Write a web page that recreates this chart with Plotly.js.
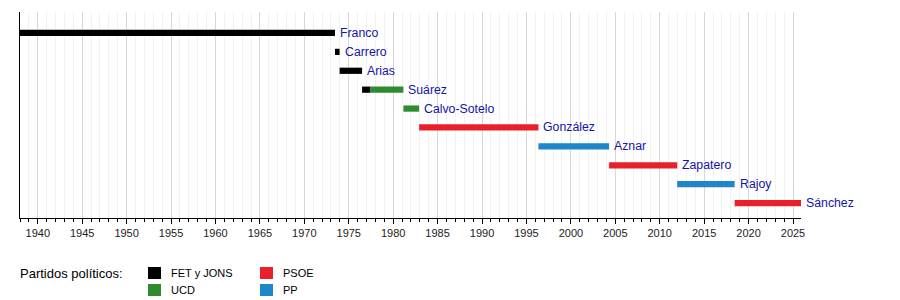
<!DOCTYPE html>
<html><head><meta charset="utf-8">
<script src="https://cdn.plot.ly/plotly-3.0.1.min.js"></script>
<style>html,body{margin:0;padding:0;background:#fff}#chart{width:900px;height:300px}</style>
</head><body><div id="chart"></div>
<script>
// Presidents of the Spanish government, periods (decimal years)
const names = ["Franco","Carrero","Arias","Suárez","Suárez","Calvo-Sotelo","González","Aznar","Zapatero","Rajoy","Sánchez"];
const rows  = [0,1,2,3,3,4,5,6,7,8,9];
const starts = [1938.0,1973.45,1973.97,1976.5,1977.45,1981.15,1982.92,1996.35,2004.3,2011.97,2018.43];
const ends   = [1973.45,1973.97,1976.5,1977.45,1981.15,1982.92,1996.35,2004.3,2011.97,2018.43,2025.9];
const parties = ["FET y JONS","FET y JONS","FET y JONS","FET y JONS","UCD","UCD","PSOE","PP","PSOE","PP","PSOE"];
const partyNames = ["FET y JONS","UCD","PSOE","PP"];
const partyColors = ["#000000","#2e8b2e","#e8202a","#1f86c9"];
const labelNames = ["Franco","Carrero","Arias","Suárez","Calvo-Sotelo","González","Aznar","Zapatero","Rajoy","Sánchez"];
const labelRows = [0,1,2,3,4,5,6,7,8,9];
const labelX = [1973.45,1973.97,1976.5,1981.15,1982.92,1996.35,2004.3,2011.97,2018.43,2025.9];

const traces = partyNames.map((p,pi)=>{
  const idx = parties.map((q,i)=>q===p?i:-1).filter(i=>i>=0);
  return {
    type:"bar", orientation:"h",
    y: idx.map(i=>rows[i]),
    base: idx.map(i=>starts[i]),
    x: idx.map(i=>ends[i]-starts[i]),
    width: 0.33,
    marker:{color:partyColors[pi], line:{width:0}},
    showlegend:false, hoverinfo:"skip"
  };
});

const annotations = labelNames.map((n,i)=>({
  x: labelX[i], y: labelRows[i], xref:"x", yref:"y",
  text: n, showarrow:false, xanchor:"left", yanchor:"middle", xshift:3,
  font:{family:"Liberation Sans, Arial, sans-serif", size:12.3, color:"#1414a8"}
}));

// Legend drawn as paper annotations/shapes
const shapes = [];
annotations.push({xref:"paper", yref:"paper", x:0, y:0, xshift:-2, yshift:-55, text:"Partidos políticos:",
  showarrow:false, xanchor:"left", yanchor:"middle",
  font:{family:"Liberation Sans, Arial, sans-serif", size:13, color:"#000"}});
const legPos = [[148,273],[148,290],[260,273],[260,290]];
partyNames.forEach((p,i)=>{
  const [lx,ly] = legPos[i];
  annotations.push({xref:"paper", yref:"paper", x:(lx+21-20)/781, y:(218-ly)/206, text:p,
    showarrow:false, xanchor:"left", yanchor:"middle",
    font:{family:"Liberation Sans, Arial, sans-serif", size:11, color:"#000"}});
  shapes.push({type:"rect", xref:"paper", yref:"paper",
    x0:(lx-20)/781, x1:(lx+13-20)/781, y0:(218-ly-6)/206, y1:(218-ly+6)/206,
    fillcolor:partyColors[i], line:{width:0}});
});

const layout = {
  width:900, height:300,
  margin:{l:20, r:99, t:12, b:82},
  paper_bgcolor:"#fff", plot_bgcolor:"#fff",
  barmode:"overlay",
  font:{family:"Liberation Sans, Arial, sans-serif", size:11, color:"#222"},
  xaxis:{range:[1938,2025.9], dtick:5, tick0:1940, showgrid:true, gridcolor:"#d8d8d8", gridwidth:1,
    ticks:"outside", ticklen:5, tickcolor:"#000", showline:true, linecolor:"#000", linewidth:1,
    zeroline:false, tickfont:{size:11, color:"#222"},
    minor:{dtick:1, ticks:"outside", ticklen:3, tickcolor:"#000", showgrid:true, gridcolor:"#f2f2f2"}},
  yaxis:{range:[9.79,-1.11], showgrid:false, showticklabels:false, ticks:"", zeroline:false,
    showline:true, linecolor:"#000", linewidth:1},
  annotations: annotations,
  shapes: shapes
};
Plotly.newPlot("chart", traces, layout, {staticPlot:true, displayModeBar:false});
</script></body></html>
